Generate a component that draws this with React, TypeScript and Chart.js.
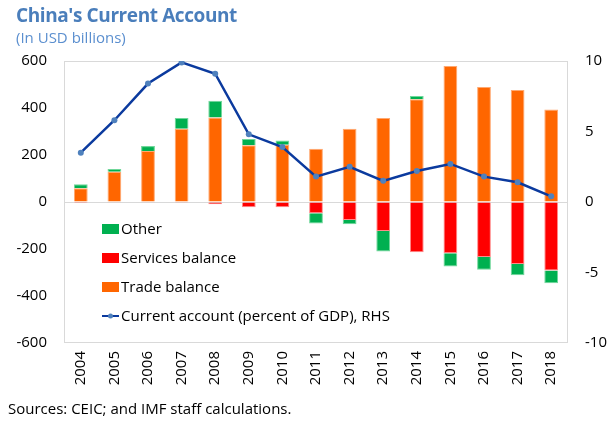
import React, { useEffect, useRef } from "react";
import { Chart, registerables } from "chart.js";
Chart.register(...registerables);

const years = ["2004", "2005", "2006", "2007", "2008", "2009", "2010", "2011", "2012", "2013", "2014", "2015", "2016", "2017", "2018"];
const tradeBalance = [58, 129, 217, 312, 360, 242, 244, 227, 312, 357, 437, 579, 489, 477, 394];
const servicesBalance = [-4, -3, -3, -1, -10, -22, -22, -48, -77, -123, -214, -218, -234, -264, -292];
const otherBalance = [18, 11, 21, 45, 71, 26, 18, -44, -18, -88, 14, -56, -54, -48, -54];
const currentAccountPct = [3.5, 5.8, 8.4, 9.9, 9.1, 4.8, 3.9, 1.8, 2.5, 1.5, 2.2, 2.7, 1.8, 1.4, 0.4];

const legendItems = [
  { label: "Other", color: "#00B050", type: "box" },
  { label: "Services balance", color: "#FF0000", type: "box" },
  { label: "Trade balance", color: "#FF6600", type: "box" },
  { label: "Current account (percent of GDP), RHS", color: "#0B3A9E", type: "line" },
];

const FONT = "'Open Sans', 'DejaVu Sans', sans-serif";

const framePlugin = {
  id: "frame",
  beforeDatasetsDraw(chart: any) {
    const { ctx, chartArea: a } = chart;
    ctx.save();
    ctx.strokeStyle = "#D9D9D9";
    ctx.lineWidth = 1;
    ctx.strokeRect(Math.round(a.left) + 0.5, Math.round(a.top) + 0.5, Math.round(a.right - a.left) - 1, Math.round(a.bottom - a.top) - 1);
    ctx.restore();
  },
  afterDatasetsDraw(chart: any) {
    const { ctx, chartArea: a } = chart;
    ctx.save();
    ctx.font = `15px ${FONT}`;
    ctx.textBaseline = "middle";
    ctx.fillStyle = "#000";
    const x0 = a.left + 38;
    const y0 = a.top + 168;
    legendItems.forEach((it, i) => {
      const y = y0 + i * 29;
      if (it.type === "box") {
        ctx.fillStyle = it.color;
        ctx.fillRect(x0, y - 5, 17, 10);
      } else {
        ctx.strokeStyle = it.color;
        ctx.lineWidth = 2;
        ctx.beginPath();
        ctx.moveTo(x0, y);
        ctx.lineTo(x0 + 17, y);
        ctx.stroke();
        ctx.fillStyle = "#4F81BD";
        ctx.beginPath();
        ctx.arc(x0 + 8.5, y, 2.5, 0, Math.PI * 2);
        ctx.fill();
      }
      ctx.fillStyle = "#000";
      ctx.fillText(it.label, x0 + 19, y + 1);
    });
    ctx.restore();
  },
};

export default function App() {
  const ref = useRef<HTMLCanvasElement>(null);
  useEffect(() => {
    if (!ref.current) return;
    const chart = new Chart(ref.current, {
      type: "bar",
      data: {
        labels: years,
        datasets: [
          {
            type: "line",
            label: "Current account (percent of GDP), RHS",
            data: currentAccountPct,
            yAxisID: "y1",
            borderColor: "#0B3A9E",
            borderWidth: 2.5,
            pointRadius: 3,
            pointBorderWidth: 0,
            pointBackgroundColor: "#4F81BD",
            pointBorderColor: "#4F81BD",
            tension: 0,
            order: 0,
          } as any,
          {
            label: "Trade balance",
            data: tradeBalance,
            backgroundColor: "#FF6600",
            borderColor: "#FFA870",
            borderWidth: 1,
            yAxisID: "y",
            order: 1,
          },
          {
            label: "Services balance",
            data: servicesBalance,
            backgroundColor: "#FF0000",
            borderColor: "#FF8A8A",
            borderWidth: 1,
            yAxisID: "y",
            order: 1,
          },
          {
            label: "Other",
            data: otherBalance,
            backgroundColor: "#00B050",
            borderColor: "#70D79A",
            borderWidth: 1,
            yAxisID: "y",
            order: 1,
          },
        ],
      },
      options: {
        responsive: false,
        animation: false,
        devicePixelRatio: 1,
        layout: { padding: { top: 61, left: 0, right: 0, bottom: 0 } },
        datasets: { bar: { barPercentage: 0.41, categoryPercentage: 1 } },
        plugins: { legend: { display: false }, tooltip: { enabled: false } },
        scales: {
          x: {
            stacked: true,
            grid: { display: false, drawTicks: false },
            border: { display: false },
            ticks: { minRotation: 90, maxRotation: 90, padding: 8, color: "#000", font: { family: FONT, size: 15 } },
            afterFit(s: any) { s.height = 78; },
          },
          y: {
            stacked: true,
            position: "left",
            min: -600,
            max: 600,
            ticks: { stepSize: 200, padding: 17, color: "#000", font: { family: FONT, size: 15 } },
            grid: { drawTicks: false, color: (c: any) => (c.tick && c.tick.value === 0 ? "#D9D9D9" : "transparent") },
            border: { display: false },
            afterFit(s: any) { s.width = 64; },
          },
          y1: {
            stacked: false,
            position: "right",
            min: -10,
            max: 10,
            ticks: { stepSize: 5, padding: 17, color: "#000", font: { family: FONT, size: 15 } },
            grid: { display: false, drawTicks: false },
            border: { display: false },
            afterFit(s: any) { s.width = 45; },
          },
        },
      } as any,
      plugins: [framePlugin],
    });
    return () => chart.destroy();
  }, []);

  return (
    <div style={{ position: "fixed", left: 0, top: 0, width: 613, height: 421, background: "#fff", fontFamily: FONT }}>
      <canvas ref={ref} width={613} height={421} style={{ position: "absolute", left: 0, top: 0 }} />
      <div style={{ position: "absolute", left: 16, top: 2, fontSize: 19, fontWeight: 700, color: "#4A7EBB", whiteSpace: "nowrap", letterSpacing: -0.4 }}>
        China's Current Account
      </div>
      <div style={{ position: "absolute", left: 16, top: 27, fontSize: 15, color: "#5B8FCF", whiteSpace: "nowrap" }}>
        (In USD billions)
      </div>
      <div style={{ position: "absolute", left: 8, top: 398, fontSize: 15, color: "#000", whiteSpace: "nowrap" }}>
        Sources: CEIC; and IMF staff calculations.
      </div>
    </div>
  );
}
